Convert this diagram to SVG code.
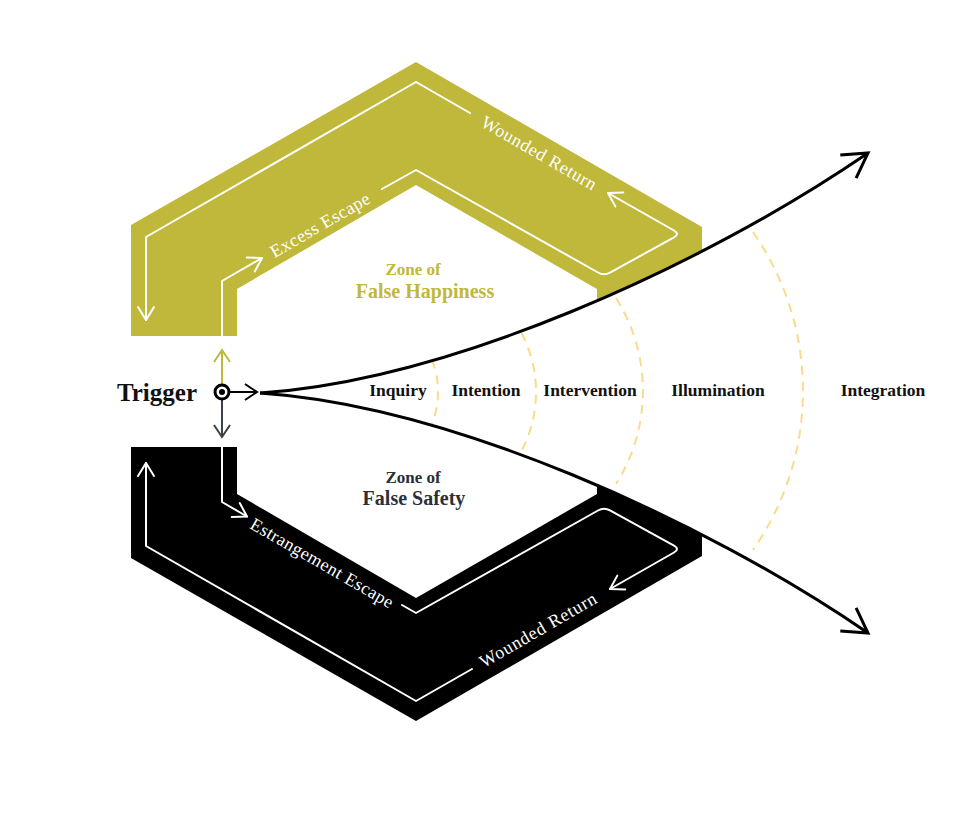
<svg xmlns="http://www.w3.org/2000/svg" width="974" height="824" viewBox="0 0 974 824">
<style>
  .olive { fill: #BFB83B; }
  .dark { fill: #000000; }
  .wline { fill: none; stroke: #FFFFFF; stroke-width: 2; stroke-linejoin: round; stroke-linecap: round; }
  .wtext { fill: #FFFFFF; font-family: "Liberation Serif", "DejaVu Serif", serif; font-size: 18px; }
  .stage { fill: #111111; font-family: "Liberation Serif", "DejaVu Serif", serif; font-size: 17.5px; font-weight: bold; text-anchor: middle; }
  .arc { fill: none; stroke: #FADB8C; stroke-width: 2; stroke-dasharray: 9 7; }
  .curve { fill: none; stroke: #000000; stroke-width: 3; }
  .zone-small { font-family: "Liberation Serif", "DejaVu Serif", serif; font-size: 17px; font-weight: bold; text-anchor: middle; }
  .zone-big { font-family: "Liberation Serif", "DejaVu Serif", serif; font-size: 20px; font-weight: bold; text-anchor: middle; }
</style>
<defs>
  <marker id="aw" markerUnits="userSpaceOnUse" orient="auto" refX="0" refY="0" markerWidth="1" markerHeight="1" overflow="visible">
    <path d="M-13,-8 L0,0 L-13,8" fill="none" stroke="#FFFFFF" stroke-width="2" stroke-linecap="round" stroke-linejoin="round"/>
  </marker>
  <marker id="ab" markerUnits="userSpaceOnUse" orient="auto" refX="0" refY="0" markerWidth="1" markerHeight="1" overflow="visible">
    <path d="M-24,-14 L0,0 L-24,14" fill="none" stroke="#000000" stroke-width="3" stroke-linecap="butt" stroke-linejoin="miter"/>
  </marker>
  <marker id="ao" markerUnits="userSpaceOnUse" orient="auto" refX="0" refY="0" markerWidth="1" markerHeight="1" overflow="visible">
    <path d="M-12,-8 L0,0 L-12,8" fill="none" stroke="#BFB83B" stroke-width="2"/>
  </marker>
  <marker id="ag" markerUnits="userSpaceOnUse" orient="auto" refX="0" refY="0" markerWidth="1" markerHeight="1" overflow="visible">
    <path d="M-12,-8 L0,0 L-12,8" fill="none" stroke="#3C4147" stroke-width="2"/>
  </marker>
  <marker id="ak" markerUnits="userSpaceOnUse" orient="auto" refX="0" refY="0" markerWidth="1" markerHeight="1" overflow="visible">
    <path d="M-12,-8 L0,0 L-12,8" fill="none" stroke="#000000" stroke-width="2"/>
  </marker>
</defs>

<rect x="0" y="0" width="974" height="824" fill="#FFFFFF"/>

<!-- Top band: Zone of False Happiness loop -->
<g id="top-band">
  <polygon class="olive" points="131,336 131,225 416,62 702,227 702,330 597,330 597,289 416,185 237,289 237,336"/>
  <path class="wline" d="M222,336 V281 L262,258" marker-end="url(#aw)"/>
  <path class="wline" d="M382,189 L416,170 L598,272.5 Q604,276 610,272.6 L674,237.4 Q680,234 674,230.5 L608,193" marker-end="url(#aw)"/>
  <path class="wline" d="M470,113 L416,82 L146,237 V320" marker-end="url(#aw)"/>
  <text class="wtext" x="320" y="231" text-anchor="middle" textLength="112" lengthAdjust="spacing" transform="rotate(-30 320 225)">Excess Escape</text>
  <text class="wtext" x="539" y="159" text-anchor="middle" textLength="130" lengthAdjust="spacing" transform="rotate(30 539 153)">Wounded Return</text>
</g>

<!-- Bottom band: Zone of False Safety loop -->
<g id="bottom-band">
  <polygon class="dark" points="131,447 131,558 416,721 702,556 702,453 597,453 597,494 416,598 237,494 237,447"/>
  <path class="wline" d="M222,447 V502 L247,516.5" marker-end="url(#aw)"/>
  <path class="wline" d="M402,605 L416,613 L598,510.5 Q604,507 610,510.4 L674,545.6 Q680,549 674,552.5 L610,589" marker-end="url(#aw)"/>
  <path class="wline" d="M472,669 L416,701 L146,546 V463" marker-end="url(#aw)"/>
  <text class="wtext" x="322" y="569" text-anchor="middle" textLength="162" lengthAdjust="spacing" transform="rotate(30 322 563)">Estrangement Escape</text>
  <text class="wtext" x="538" y="636" text-anchor="middle" textLength="132" lengthAdjust="spacing" transform="rotate(-30 538 630)">Wounded Return</text>
</g>

<!-- Fan of growth between the two paths -->
<g id="fan">
  <path d="M260,393 C450,380 700,268 868,153 L868,633 C700,518 450,406 260,393 Z" fill="#FFFFFF"/>
  <path class="arc" d="M432,360 A88,88 0 0 1 432,424"/>
  <path class="arc" d="M521.5,333 A127,127 0 0 1 521.5,451"/>
  <path class="arc" d="M616,298 A174,174 0 0 1 616,484"/>
  <path class="arc" d="M753,232 A278,278 0 0 1 753,550"/>
</g>

<!-- Connectors -->
<g id="connectors">
  <path class="curve" d="M260,393 C450,380 700,268 868,153" marker-end="url(#ab)"/>
  <path class="curve" d="M260,393 C450,406 700,518 868,633" marker-end="url(#ab)"/>
  <path d="M222,384 V350" fill="none" stroke="#BFB83B" stroke-width="2" marker-end="url(#ao)"/>
  <path d="M222,400 V437" fill="none" stroke="#3C4147" stroke-width="2" marker-end="url(#ag)"/>
  <path d="M230,392 H257" fill="none" stroke="#000000" stroke-width="2" marker-end="url(#ak)"/>
</g>

<!-- Trigger node -->
<g id="trigger">
  <circle cx="222" cy="392" r="7" fill="#FFFFFF" stroke="#000000" stroke-width="3"/>
  <circle cx="222" cy="392" r="3" fill="#000000"/>
  <text x="197" y="401" text-anchor="end" font-family="Liberation Serif, DejaVu Serif, serif" font-size="25" font-weight="bold" fill="#111111">Trigger</text>
</g>

<!-- Zone labels -->
<g id="zone-happiness">
  <text class="zone-small" x="413" y="275" fill="#BFB83B">Zone of</text>
  <text class="zone-big" x="425" y="298" fill="#BFB83B">False Happiness</text>
</g>
<g id="zone-safety">
  <text class="zone-small" x="413" y="483" fill="#2B2F3A">Zone of</text>
  <text class="zone-big" x="414" y="505" fill="#2B2F3A">False Safety</text>
</g>

<!-- Stage labels -->
<g id="stage-inquiry"><text class="stage" x="398" y="396">Inquiry</text></g>
<g id="stage-intention"><text class="stage" x="486" y="396">Intention</text></g>
<g id="stage-intervention"><text class="stage" x="590" y="396">Intervention</text></g>
<g id="stage-illumination"><text class="stage" x="718" y="396">Illumination</text></g>
<g id="stage-integration"><text class="stage" x="883" y="396">Integration</text></g>
</svg>
